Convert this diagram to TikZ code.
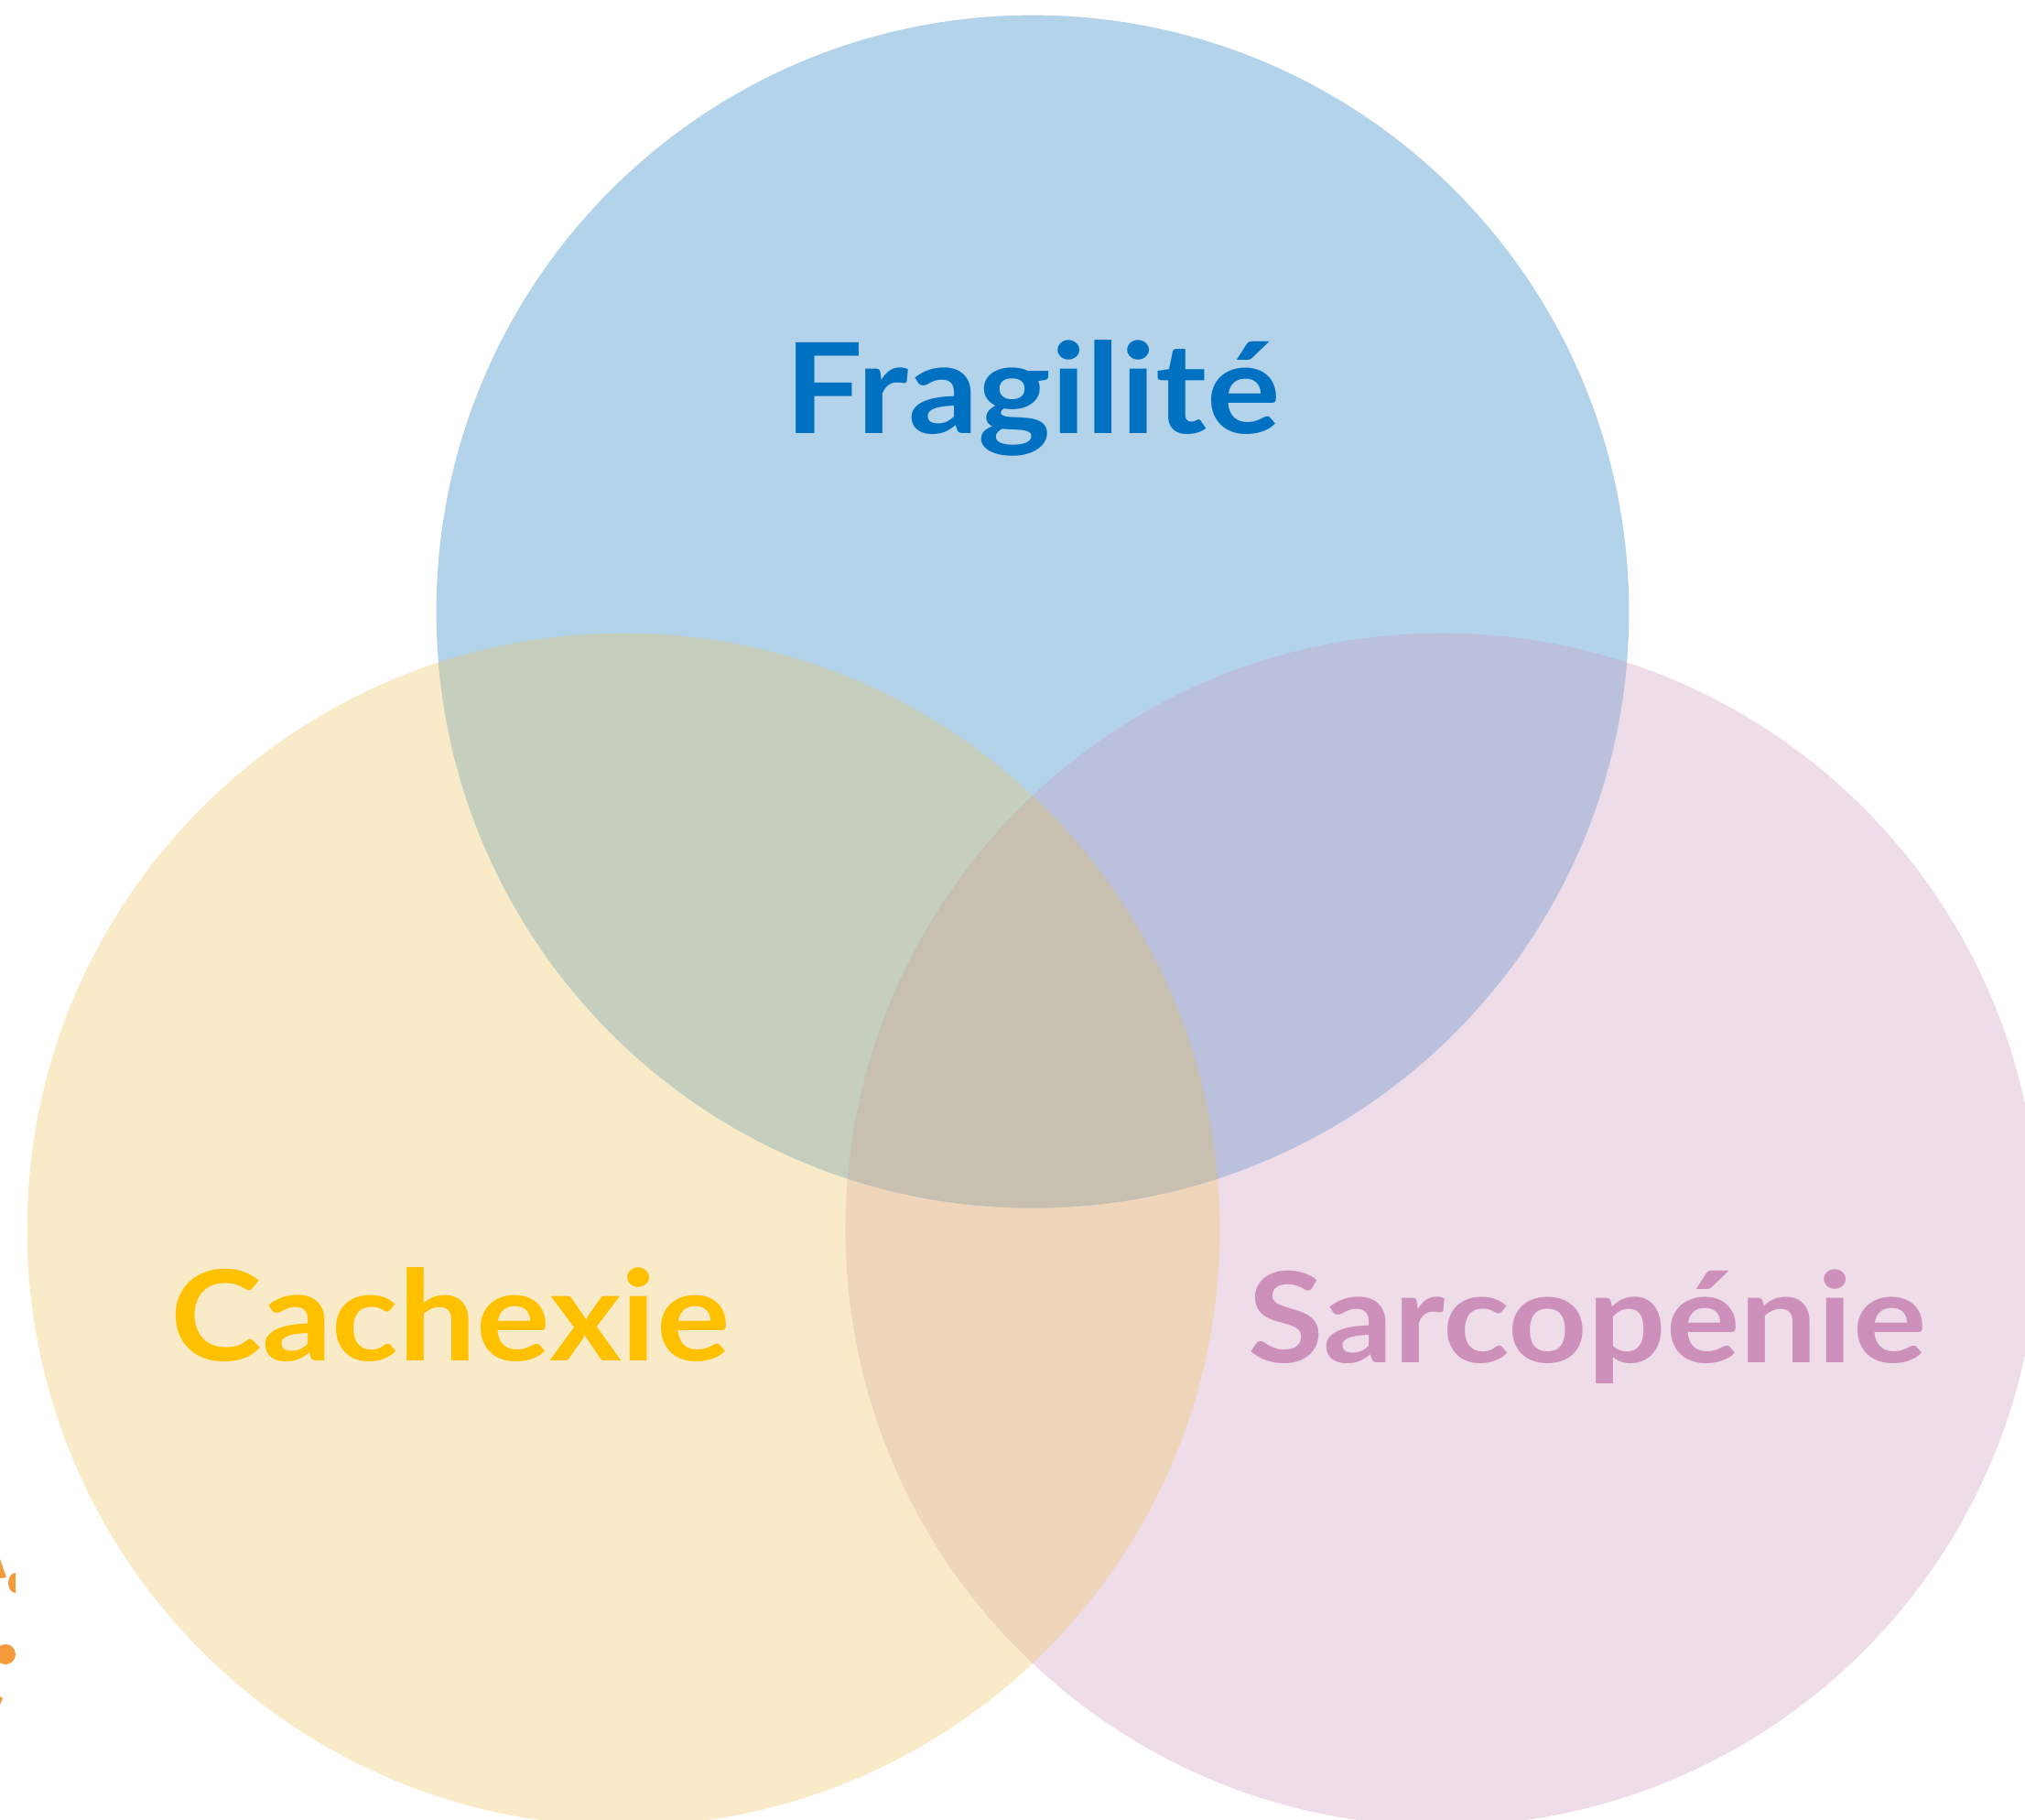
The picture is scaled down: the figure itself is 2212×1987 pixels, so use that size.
\documentclass[tikz,border=0pt]{standalone}
\usepackage{fontspec}
\setmainfont{Lato}[FakeStretch=1.1]
\usepackage{tikz}
\usepackage{xcolor}

\definecolor{fragFill}{HTML}{B3D3EA}
\definecolor{cachFill}{HTML}{FAEBC8}
\definecolor{sarcFill}{HTML}{EEDCE9}
\definecolor{fragCach}{HTML}{C6CFBE}
\definecolor{fragSarc}{HTML}{BBC0DD}
\definecolor{cachSarc}{HTML}{EFD5B9}
\definecolor{allThree}{HTML}{C7BFB0}
\definecolor{fragText}{HTML}{0070C0}
\definecolor{cachText}{HTML}{FFC000}
\definecolor{sarcText}{HTML}{CC90BA}
\definecolor{logoOrange}{HTML}{F39A3A}

\begin{document}
\begin{tikzpicture}[x=0.01cm, y=-0.01cm,
    setname/.style={font=\bfseries\fontsize{39}{39}\selectfont, anchor=base}]
    % Fix the page size
    \useasboundingbox (0,0) rectangle (2212,1987);
    \clip (0,0) rectangle (2212,1987);

    % Centres of the three sets
    \coordinate (CF) at (1128,668);
    \coordinate (CC) at (681,1343);
    \coordinate (CS) at (1575,1343);
    \def\R{6.51cm}

    % Draw the three circles
    \fill[cachFill] (CC) circle[radius=\R];
    \fill[sarcFill] (CS) circle[radius=\R];
    \fill[fragFill] (CF) circle[radius=\R];

    % Pairwise overlaps
    \begin{scope}
        \clip (CC) circle[radius=\R];
        \fill[cachSarc] (CS) circle[radius=\R];
        \fill[fragCach] (CF) circle[radius=\R];
    \end{scope}
    \begin{scope}
        \clip (CS) circle[radius=\R];
        \fill[fragSarc] (CF) circle[radius=\R];
    \end{scope}

    % Centre where all three meet
    \begin{scope}
        \clip (CC) circle[radius=\R];
        \clip (CS) circle[radius=\R];
        \fill[allThree] (CF) circle[radius=\R];
    \end{scope}

    % Labels
    \node[setname, text=fragText] (Fragilite) at (1128,473) {Fragilité};
    \node[setname, text=cachText] (Cachexie) at (492,1486) {Cachexie};
    \node[setname, text=sarcText] (Sarcopenie) at (1734,1488) {Sarcopénie};

    % Bits of a logo cut off at the left edge
    \fill[logoOrange] (0,1703) -- (7,1723) -- (0,1724) -- cycle;
    \fill[logoOrange] (17,1740) arc[start angle=90, end angle=270, x radius=0.08cm, y radius=-0.11cm] -- cycle;
    \fill[logoOrange] (6,1807) circle[radius=0.11cm];
    \fill[logoOrange] (0,1853) -- (3,1855) -- (0,1862) -- cycle;
\end{tikzpicture}
\end{document}
